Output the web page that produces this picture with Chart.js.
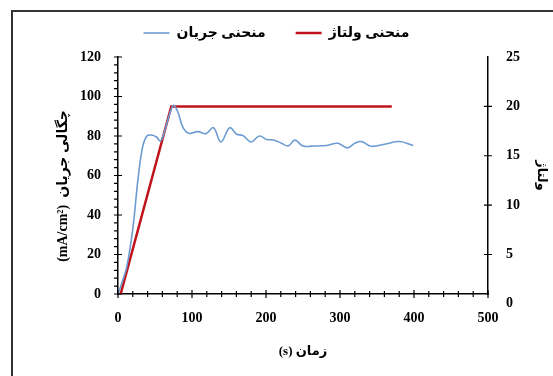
<!DOCTYPE html>
<html>
<head>
<meta charset="utf-8">
<script src="https://cdn.jsdelivr.net/npm/chart.js@4.4.1/dist/chart.umd.min.js"></script>
<style>
  html, body { margin: 0; padding: 0; background: #fff; }
  #wrap { position: relative; width: 553px; height: 376px; overflow: hidden; }
  #frame { position: absolute; left: 11px; top: 10px; width: 600px; height: 400px;
           border-left: 2px solid #333; border-top: 2px solid #333; }
  canvas { position: absolute; left: 0; top: 0; }
</style>
</head>
<body>
<div id="wrap">
  <div id="frame"></div>
  <canvas id="chart" width="553" height="376"></canvas>
</div>
<script>
// current density curve (s, mA/cm2)
const currentTimes = [0, 6, 12, 20, 27, 33, 39, 45, 52, 57, 61, 68, 75, 81, 86, 91, 97, 108, 119, 129, 139, 151, 160, 169, 180, 191, 201, 210, 221, 230, 239, 250, 264, 282, 297, 310, 320, 329, 342, 360, 380, 399];
const currentValues = [0, 6.5, 14, 33, 58, 74, 80, 80.5, 79.5, 77.5, 80, 89, 95.5, 92, 86, 82.5, 81.3, 82.2, 81.2, 84.2, 77, 84.2, 81, 80.2, 77, 80, 78.2, 78, 76.3, 75, 77.9, 74.9, 74.9, 75.2, 76.3, 74, 76.3, 77.2, 74.8, 75.8, 77.2, 75.2];

// voltage curve (s, V)
const voltageTimes = [0, 72, 370];
const voltageValues = [0, 20, 20];

const xTicks = [0, 100, 200, 300, 400, 500];
const leftTicks = [0, 20, 40, 60, 80, 100, 120];
const rightTicks = [0, 5, 10, 15, 20, 25];

const labels = ['منحنی جریان', 'منحنی ولتاژ'];

const serif = "'Liberation Serif', 'Times New Roman', 'DejaVu Sans', serif";

function toPoints(xs, ys) {
	return xs.map((t, i) => ({ x: t, y: ys[i] }));
}

// small tick marks like the Excel axes
const tickMarks = {
	id: 'tickMarks',
	afterDraw(chart) {
		const ctx = chart.ctx;
		const a = chart.chartArea;
		const sx = chart.scales.x, sl = chart.scales.y, sr = chart.scales.y1;
		ctx.save();
		ctx.strokeStyle = '#000';
		ctx.lineWidth = 1.2;
		ctx.beginPath();
		for (let v = sx.min; v <= sx.max; v += 20) {
			const px = sx.getPixelForValue(v);
			const len = xTicks.includes(v) ? 4 : 3;
			ctx.moveTo(px, a.bottom - len);
			ctx.lineTo(px, a.bottom + len);
		}
		for (let v = sl.min; v <= sl.max; v += 4) {
			const py = sl.getPixelForValue(v);
			if (leftTicks.includes(v)) {
				ctx.moveTo(a.left - 4, py);
				ctx.lineTo(a.left + 4, py);
			} else {
				ctx.moveTo(a.left - 4, py);
				ctx.lineTo(a.left, py);
			}
		}
		rightTicks.forEach(v => {
			if (v <= sr.min || v >= sr.max) return;
			const py = sr.getPixelForValue(v);
			ctx.moveTo(a.right - 4, py);
			ctx.lineTo(a.right + 4, py);
		});
		ctx.stroke();
		ctx.restore();
	}
};

// force the legend box height so the plot starts where the original does
const legendHeight = {
	id: 'legendHeight',
	afterInit(chart) {
		const fit = chart.legend.fit;
		chart.legend.fit = function() {
			fit.call(this);
			this.height = 61;
		};
	}
};

const ctx = document.getElementById('chart').getContext('2d');
const chart = new Chart(ctx, {
	type: 'line',
	data: {
		datasets: [{
			label: labels[0],
			data: toPoints(currentTimes, currentValues),
			borderColor: '#6c9bd2',
			backgroundColor: '#6c9bd2',
			borderWidth: 1.6,
			tension: 0.4,
			pointRadius: 0,
			yAxisID: 'y'
		}, {
			label: labels[1],
			data: toPoints(voltageTimes, voltageValues),
			borderColor: '#c0141c',
			backgroundColor: '#c0141c',
			borderWidth: 2.5,
			tension: 0,
			pointRadius: 0,
			yAxisID: 'y1'
		}]
	},
	options: {
		responsive: false,
		animation: false,
		devicePixelRatio: 1,
		layout: { padding: { top: -4, left: 0, right: 0, bottom: 0 } },
		plugins: {
			legend: {
				position: 'top',
				labels: {
					usePointStyle: true,
					pointStyle: 'line',
					pointStyleWidth: 26,
					boxHeight: 14,
					padding: 30,
					color: '#000',
					font: { family: serif, size: 14, weight: 'bold' }
				}
			},
			tooltip: { enabled: false }
		},
		scales: {
			x: {
				type: 'linear',
				min: 0,
				max: 500,
				afterBuildTicks: s => { s.ticks = xTicks.map(v => ({ value: v })); },
				afterFit: s => { s.height = 82; },
				grid: { display: false },
				border: { display: true, color: '#000', width: 1.5 },
				ticks: { color: '#000', padding: 8, maxRotation: 0, font: { family: serif, size: 14, weight: 'bold' } },
				title: {
					display: true,
					text: '(s) زمان',
					color: '#000',
					padding: { top: 0, bottom: 17 },
					font: { family: serif, size: 13, weight: 'bold' }
				}
			},
			y: {
				position: 'left',
				min: 0,
				max: 120,
				afterBuildTicks: s => { s.ticks = leftTicks.map(v => ({ value: v })); },
				afterFit: s => { s.width = 118; },
				grid: { display: false },
				border: { display: true, color: '#000', width: 1.5 },
				ticks: { color: '#000', padding: 9, font: { family: serif, size: 14, weight: 'bold' } },
				title: {
					display: true,
					text: '(mA/cm²)  چگالی جریان      ',
					color: '#000',
					padding: { top: 55, bottom: 0 },
					font: { family: serif, size: 14, weight: 'bold' }
				}
			},
			y1: {
				position: 'right',
				min: 1,
				max: 25,
				afterBuildTicks: s => { s.ticks = rightTicks.map(v => ({ value: v })); },
				afterFit: s => { s.width = 65; },
				grid: { display: false, drawOnChartArea: false },
				border: { display: true, color: '#000', width: 1.5 },
				ticks: { color: '#000', padding: 10, font: { family: serif, size: 14, weight: 'bold' } },
				title: {
					display: true,
					text: 'ولتاژ',
					color: '#000',
					padding: { top: 4, bottom: 0 },
					font: { family: serif, size: 13, weight: 'bold' }
				}
			}
		}
	},
	plugins: [tickMarks, legendHeight]
});
</script>
</body>
</html>
